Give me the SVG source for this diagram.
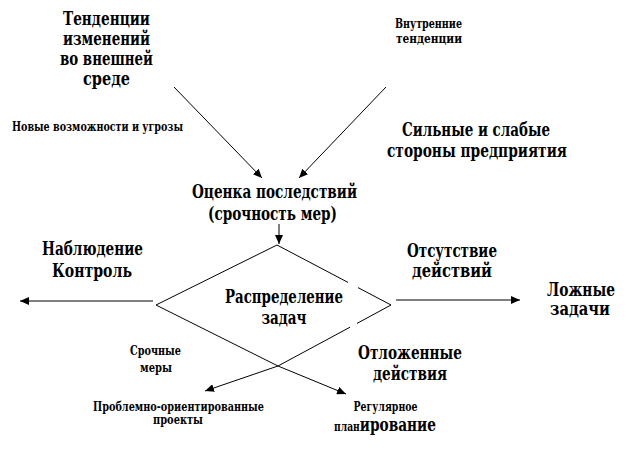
<svg xmlns="http://www.w3.org/2000/svg" width="637" height="473" viewBox="0 0 637 473">
<style>
text{font-weight:700;fill:#000;text-anchor:middle}
.b{font-size:18px}
.s{font-size:12px}
.ln{fill:none;stroke:#000;stroke-width:1}
</style>
<defs>
<marker id="ah" markerUnits="userSpaceOnUse" markerWidth="10" markerHeight="8" refX="9" refY="4" orient="auto">
<path d="M0,0 L9,4 L0,8 Z" fill="#000"/>
</marker>
</defs>
<rect width="637" height="473" fill="#fff"/>
<g id="connectors">
<line class="ln" x1="174" y1="87" x2="262" y2="178" marker-end="url(#ah)"/>
<line class="ln" x1="386" y1="87" x2="299" y2="178" marker-end="url(#ah)"/>
<line class="ln" x1="279" y1="224" x2="279" y2="244" marker-end="url(#ah)"/>
<line class="ln" x1="153" y1="301" x2="20" y2="301" marker-end="url(#ah)"/>
<line class="ln" x1="396" y1="300" x2="520" y2="300" marker-end="url(#ah)"/>
<path class="ln" d="M156,305 L277,245 L348,282.4 M358,287.6 L391,305 L357,323.4"/>
<polyline class="ln" points="350,327.2 278,366 205,391" marker-end="url(#ah)"/>
<polyline class="ln" points="156,305 278,366 346,394" marker-end="url(#ah)"/>
</g>
<g font-family="DejaVu Serif, Liberation Serif, serif">
<g id="node-external">
<text class="b" x="106.5" y="25" textLength="87" lengthAdjust="spacingAndGlyphs">Тенденции</text>
<text class="b" x="106.5" y="45" textLength="87" lengthAdjust="spacingAndGlyphs">изменений</text>
<text class="b" x="106.5" y="65" textLength="93" lengthAdjust="spacingAndGlyphs">во внешней</text>
<text class="b" x="106.5" y="85" textLength="47" lengthAdjust="spacingAndGlyphs">среде</text>
</g>
<g id="node-opportunities">
<text class="s" x="97.5" y="131" textLength="171" lengthAdjust="spacingAndGlyphs">Новые возможности и угрозы</text>
</g>
<g id="node-internal">
<text class="s" x="428.5" y="28" textLength="67" lengthAdjust="spacingAndGlyphs">Внутренние</text>
<text class="s" x="429" y="43" textLength="66" lengthAdjust="spacingAndGlyphs">тенденции</text>
</g>
<g id="node-strengths">
<text class="b" x="476" y="136" textLength="148" lengthAdjust="spacingAndGlyphs">Сильные и слабые</text>
<text class="b" x="477" y="157" textLength="180" lengthAdjust="spacingAndGlyphs">стороны предприятия</text>
</g>
<g id="node-assessment">
<text class="b" x="274.5" y="198" textLength="165" lengthAdjust="spacingAndGlyphs">Оценка последствий</text>
<text class="b" x="272.5" y="220" textLength="129" lengthAdjust="spacingAndGlyphs">(срочность мер)</text>
</g>
<g id="node-monitoring">
<text class="b" x="92.5" y="255" textLength="101" lengthAdjust="spacingAndGlyphs">Наблюдение</text>
<text class="b" x="92" y="277" textLength="80" lengthAdjust="spacingAndGlyphs">Контроль</text>
</g>
<g id="node-distribution">
<text class="b" x="284" y="303" textLength="118" lengthAdjust="spacingAndGlyphs">Распределение</text>
<text class="b" x="284" y="324" textLength="45" lengthAdjust="spacingAndGlyphs">задач</text>
</g>
<g id="node-no-action">
<text class="b" x="452" y="257" textLength="90" lengthAdjust="spacingAndGlyphs">Отсутствие</text>
<text class="b" x="452" y="277" textLength="80" lengthAdjust="spacingAndGlyphs">действий</text>
</g>
<g id="node-false-tasks">
<text class="b" x="581" y="296" textLength="68" lengthAdjust="spacingAndGlyphs">Ложные</text>
<text class="b" x="580" y="315" textLength="60" lengthAdjust="spacingAndGlyphs">задачи</text>
</g>
<g id="node-urgent">
<text class="s" x="155.5" y="355" textLength="51" lengthAdjust="spacingAndGlyphs">Срочные</text>
<text class="s" x="156" y="372" textLength="32" lengthAdjust="spacingAndGlyphs">меры</text>
</g>
<g id="node-postponed">
<text class="b" x="410" y="359" textLength="104" lengthAdjust="spacingAndGlyphs">Отложенные</text>
<text class="b" x="410" y="380" textLength="74" lengthAdjust="spacingAndGlyphs">действия</text>
</g>
<g id="node-projects">
<text class="s" x="178.5" y="411" textLength="171" lengthAdjust="spacingAndGlyphs">Проблемно-ориентированные</text>
<text class="s" x="178" y="424" textLength="50" lengthAdjust="spacingAndGlyphs">проекты</text>
</g>
<g id="node-planning">
<text class="s" x="385.5" y="411" textLength="64" lengthAdjust="spacingAndGlyphs">Регулярное</text>
<text x="334" y="431" style="text-anchor:start" textLength="102" lengthAdjust="spacingAndGlyphs"><tspan class="s">план</tspan><tspan class="b">ирование</tspan></text>
</g>
</g>
</svg>
